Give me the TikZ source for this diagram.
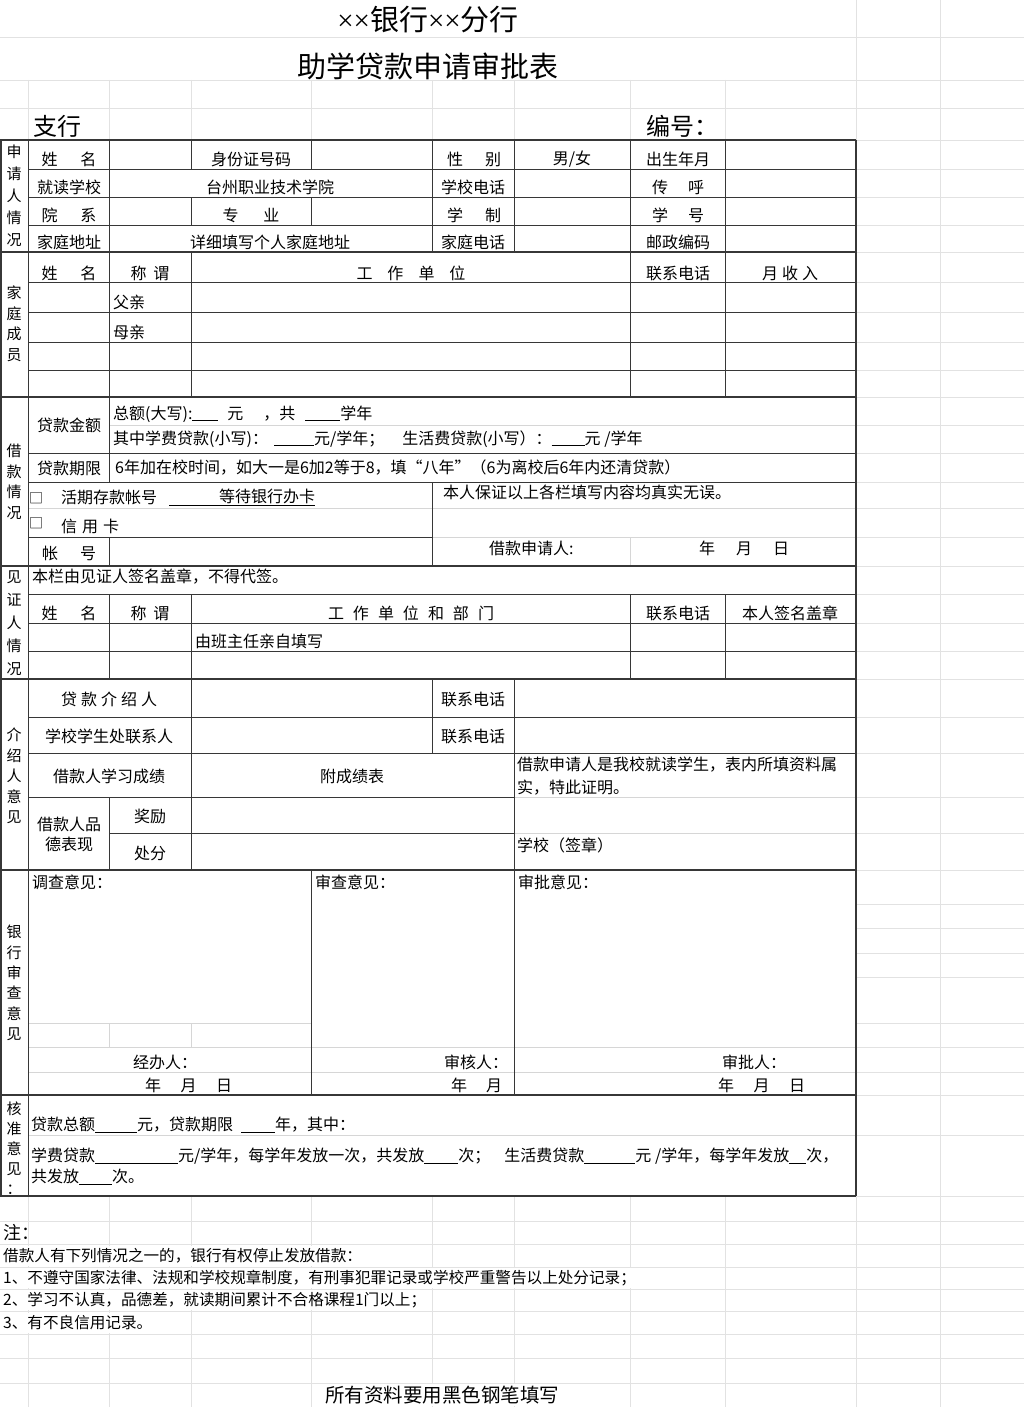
\documentclass[tikz,border=0pt]{standalone}
\usepackage{fontspec}
\setmainfont{Noto Sans CJK SC}
\newfontfamily\timesfont{Liberation Serif}
\usetikzlibrary{positioning}
\definecolor{gridgray}{RGB}{226,226,226}
\definecolor{rulegray}{RGB}{55,55,55}
\tikzstyle{gridline}=[gridgray, line width=0.8pt]
\tikzstyle{faint}=[black!16, line width=0.8pt]
\tikzstyle{rule}=[rulegray, line width=0.9pt]
\tikzstyle{bold rule}=[rulegray, line width=1.8pt]
\tikzstyle{cell}=[inner sep=0pt, font=\fontsize{16}{19}\selectfont]
\tikzstyle{lcell}=[cell, anchor=west]
\tikzstyle{side}=[cell, align=center]
\tikzstyle{note}=[lcell, fill=white, minimum height=20pt, font=\fontsize{15.6}{18}\selectfont]
\tikzstyle{tick box}=[cell, font=\fontsize{14}{15}\selectfont]
\newcommand{\sidelabel}[4]{
  \node[side, font=\fontsize{15}{#3}\selectfont] (#1) at (14,#2) {#4};
}
\newcommand{\fillin}[1]{\underline{\hspace{#1}}}

\begin{document}
\begin{tikzpicture}[x=1pt, y=-1pt]
  \fill[white] (0,0) rectangle (1024,1407);
  \useasboundingbox (0,0) rectangle (1024,1407);
  % sheet grid
  \foreach \gx in {28,109,191,311,432,514,630,725,856,940}
    \draw[gridline] (\gx,80) -- (\gx,1407);
  \foreach \gx in {856,940}
    \draw[gridline] (\gx,0) -- (\gx,80);
  \foreach \gy in {37,80,108,140,169,197,225,252,282,312,342,370,397,425,453,482,508,537,566,594,623,651,679,717,753,797,833,870,904,928,953,977,1023,1047,1072,1095,1135,1196,1221,1244,1267,1289,1311,1334,1358,1383}
    \draw[gridline] (0,\gy) -- (1024,\gy);
  \fill[white] (0,140) rectangle (856,1196);
  % faint cell lines inside the form
  \foreach \fx/\fy/\fz in {109/425/856, 28/508/856, 432/537/856, 514/797/856, 514/833/856, 28/1023/311, 28/1047/856, 28/1072/856, 28/1135/856}
    \draw[faint] (\fx,\fy) -- (\fz,\fy);
  \draw[faint] (630,537) -- (630,566);
  \draw[faint] (109,1023) -- (109,1047);
  \draw[faint] (191,1023) -- (191,1047);
  % form rules
  \foreach \ry in {169,197,225,282,312,342,370,453,482,594,623,651,717,753}
    \draw[rule] (28,\ry) -- (856,\ry);
  \draw[rule] (28,537) -- (432,537);
  \draw[rule] (28,797) -- (514,797);
  \draw[rule] (109,833) -- (514,833);
  \draw[rule] (28,140) -- (28,1196);
  \foreach \cx/\ya/\yb in {109/140/482, 109/537/566, 109/594/679, 109/797/870, 191/140/169, 191/197/225, 191/252/397, 191/594/870, 311/140/169, 311/197/225, 311/870/1095, 432/140/252, 432/482/566, 432/679/753, 514/140/252, 514/679/1095, 630/140/397, 630/594/679, 725/140/397, 725/594/679}
    \draw[rule] (\cx,\ya) -- (\cx,\yb);
  \foreach \ry in {140,252,397,566,679,870,1095,1196}
    \draw[bold rule] (0,\ry) -- (856,\ry);
  \draw[bold rule] (0.9,140) -- (0.9,1196);
  \draw[bold rule] (856,140) -- (856,1196);

  % heading
  \node[inner sep=0pt, font=\fontsize{29}{32}\selectfont] (bankname) at (428,20) {{\timesfont ××}银行{\timesfont ××}分行};
  \node[inner sep=0pt, font=\fontsize{29}{32}\selectfont] (formtitle) at (428,66) {助学贷款申请审批表};
  \node[lcell, font=\fontsize{24}{28}\selectfont] (branch) at (33,126) {支行};
  \node[lcell, font=\fontsize{24}{28}\selectfont] (serialno) at (646,126) {编号：};

  % applicant
  \sidelabel{side-applicant}{196}{22}{申\\请\\人\\情\\况}
  \node[cell] (a-name) at (69,159) {姓\hspace{23pt}名};
  \node[cell] (a-id) at (251,159) {身份证号码};
  \node[cell] (a-sex) at (474,159) {性\hspace{22pt}别};
  \node[cell] (a-sexval) at (572,159) {男/女};
  \node[cell] (a-birth) at (678,159) {出生年月};
  \node[cell] (a-school) at (69,187) {就读学校};
  \node[cell] (a-schoolval) at (270,187) {台州职业技术学院};
  \node[cell] (a-schooltel) at (473,187) {学校电话};
  \node[cell] (a-pager) at (678,187) {传\hspace{20pt}呼};
  \node[cell] (a-dept) at (69,215) {院\hspace{23pt}系};
  \node[cell] (a-major) at (251,215) {专\hspace{25pt}业};
  \node[cell] (a-length) at (474,215) {学\hspace{22pt}制};
  \node[cell] (a-stuno) at (678,215) {学\hspace{20pt}号};
  \node[cell] (a-addr) at (69,242) {家庭地址};
  \node[cell] (a-addrval) at (270,242) {详细填写个人家庭地址};
  \node[cell] (a-hometel) at (473,242) {家庭电话};
  \node[cell] (a-zip) at (678,242) {邮政编码};

  % family
  \sidelabel{side-family}{324}{20.5}{家\\庭\\成\\员}
  \node[cell] (f-name) at (69,273) {姓\hspace{23pt}名};
  \node[cell] (f-rel) at (150,273) {称\hspace{7pt}谓};
  \node[cell] (f-work) at (411,273) {工\hspace{15pt}作\hspace{15pt}单\hspace{15pt}位};
  \node[cell] (f-tel) at (678,273) {联系电话};
  \node[cell] (f-income) at (790,273) {月\hspace{4pt}收\hspace{4pt}入};
  \node[lcell] (f-father) at (113,302) {父亲};
  \node[lcell] (f-mother) at (113,332) {母亲};

  % loan
  \sidelabel{side-loan}{482}{20.5}{借\\款\\情\\况}
  \node[cell] (l-amount) at (69,425) {贷款金额};
  \node[lcell] (l-total) at (113,414) {总额(大写):\fillin{26pt}\hspace{9pt}元\hspace{20pt}，共\hspace{10pt}\fillin{35pt}学年};
  \node[lcell] (l-split) at (113,439) {其中学费贷款(小写)：\hspace{6pt}\fillin{40pt}元/学年；\hspace{18pt}生活费贷款(小写）：\fillin{33pt}元 /学年};
  \node[cell] (l-term) at (69,468) {贷款期限};
  \node[lcell] (l-termval) at (115,468) {6年加在校时间，如大一是6加2等于8，填“八年”（6为离校后6年内还清贷款）};
  \node[tick box] (l-box1) at (36,498) {□};
  \node[lcell] (l-demand) at (61,497) {活期存款帐号};
  \node[lcell] (l-wait) at (169,497) {\underline{\hspace{50pt}等待银行办卡}};
  \node[tick box] (l-box2) at (36,523) {□};
  \node[lcell] (l-credit) at (61,526) {信\hspace{5pt}用\hspace{5pt}卡};
  \node[cell] (l-acct) at (69,553) {帐\hspace{22pt}号};
  \node[lcell] (l-pledge) at (443,492) {本人保证以上各栏填写内容均真实无误。};
  \node[lcell] (l-sign) at (489,548) {借款申请人:};
  \node[lcell] (l-date) at (699,548) {年\hspace{21pt}月\hspace{21pt}日};

  % witness
  \sidelabel{side-witness}{623}{23}{见\\证\\人\\情\\况}
  \node[lcell] (w-rule) at (32,577) {本栏由见证人签名盖章，不得代签。};
  \node[cell] (w-name) at (69,613) {姓\hspace{23pt}名};
  \node[cell] (w-rel) at (150,613) {称\hspace{7pt}谓};
  \node[cell] (w-work) at (411,613) {工\hspace{9pt}作\hspace{9pt}单\hspace{9pt}位\hspace{9pt}和\hspace{9pt}部\hspace{9pt}门};
  \node[cell] (w-tel) at (678,613) {联系电话};
  \node[cell] (w-seal) at (790,613) {本人签名盖章};
  \node[lcell] (w-teacher) at (195,641) {由班主任亲自填写};

  % referee
  \sidelabel{side-referee}{776}{20.5}{介\\绍\\人\\意\\见}
  \node[cell] (r-intro) at (109,699) {贷\hspace{4pt}款\hspace{4pt}介\hspace{4pt}绍\hspace{4pt}人};
  \node[cell] (r-tel1) at (473,699) {联系电话};
  \node[cell] (r-office) at (109,736) {学校学生处联系人};
  \node[cell] (r-tel2) at (473,736) {联系电话};
  \node[cell] (r-grades) at (109,776) {借款人学习成绩};
  \node[cell] (r-gradesval) at (352,776) {附成绩表};
  \node[lcell] (r-cert1) at (517,765) {借款申请人是我校就读学生，表内所填资料属};
  \node[lcell] (r-cert2) at (517,788) {实，特此证明。};
  \node[cell] (r-conduct1) at (69,824) {借款人品};
  \node[cell, below=5pt of r-conduct1] (r-conduct2) {德表现};
  \node[cell] (r-reward) at (150,816) {奖励};
  \node[cell] (r-penalty) at (150,853) {处分};
  \node[lcell] (r-stamp) at (517,845) {学校（签章）};

  % bank review
  \sidelabel{side-bank}{983}{20.4}{银\\行\\审\\查\\意\\见}
  \node[lcell] (b-survey) at (32,882) {调查意见：};
  \node[lcell] (b-review) at (315,882) {审查意见：};
  \node[lcell] (b-approve) at (518,882) {审批意见：};
  \node[lcell] (b-handler) at (133,1062) {经办人：};
  \node[lcell] (b-date1) at (145,1085) {年\hspace{19.5pt}月\hspace{19.5pt}日};
  \node[lcell] (b-checker) at (444,1062) {审核人：};
  \node[lcell] (b-date2) at (451,1085) {年\hspace{19pt}月};
  \node[lcell] (b-approver) at (722,1062) {审批人：};
  \node[lcell] (b-date3) at (718,1085) {年\hspace{19.5pt}月\hspace{19.5pt}日};

  % approval
  \sidelabel{side-grant}{1148}{20}{核\\准\\意\\见\\：}
  \node[lcell] (g-total) at (31,1125) {贷款总额\fillin{42pt}元，贷款期限\hspace{8pt}\fillin{34pt}年，其中：};
  \node[lcell] (g-fee) at (31,1156) {学费贷款\fillin{83pt}元/学年，每学年发放一次，共发放\fillin{34pt}次；\hspace{14pt}生活费贷款\fillin{51pt}元 /学年，每学年发放\fillin{17pt}次，};
  \node[lcell] (g-times) at (31,1177) {共发放\fillin{33pt}次。};

  % notes
  \node[lcell, font=\fontsize{18}{20}\selectfont] (notehead) at (3,1233) {注：};
  \node[note] (note0) at (3,1256) {借款人有下列情况之一的，银行有权停止发放借款：};
  \node[note] (note1) at (3,1278) {1、不遵守国家法律、法规和学校规章制度，有刑事犯罪记录或学校严重警告以上处分记录；};
  \node[note] (note2) at (3,1300) {2、学习不认真，品德差，就读期间累计不合格课程1门以上；};
  \node[note] (note3) at (3,1323) {3、有不良信用记录。};
  \node[cell, fill=white, minimum height=22pt, font=\fontsize{19.5}{22}\selectfont] (penreminder) at (442,1395) {所有资料要用黑色钢笔填写};
\end{tikzpicture}
\end{document}
